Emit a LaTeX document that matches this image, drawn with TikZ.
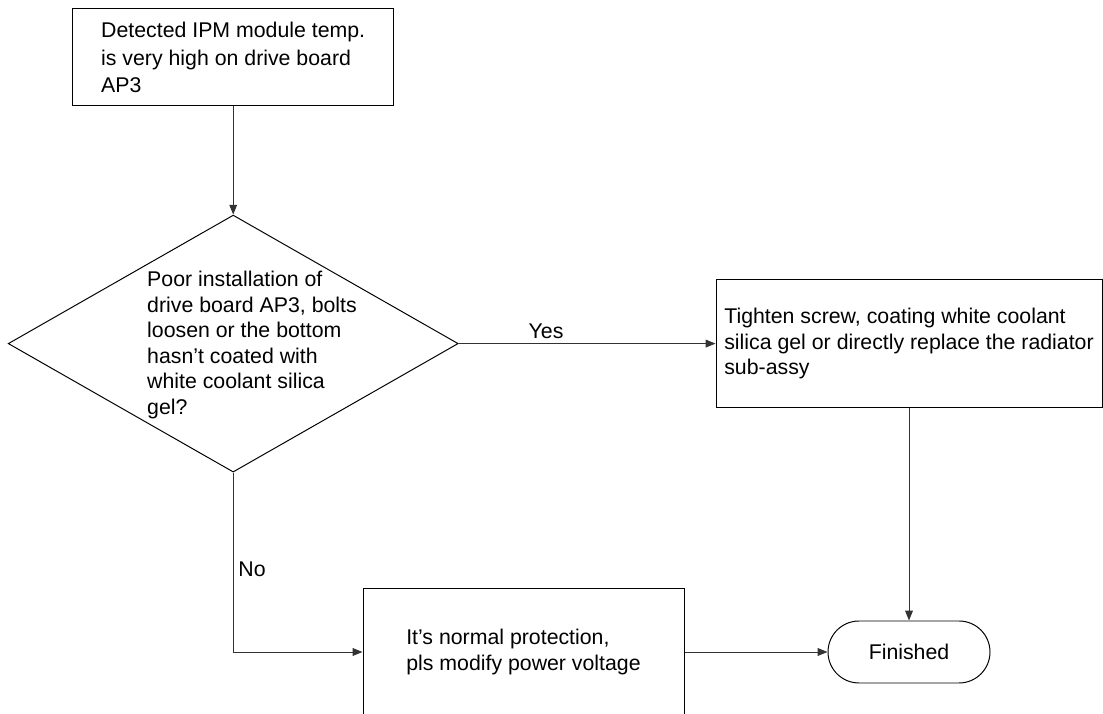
\documentclass[tikz,border=0pt]{standalone}
\usepackage{fontspec}
\setmainfont{Liberation Sans}
\usepackage{tikz}
\usetikzlibrary{arrows.meta,positioning,shapes.geometric}

\begin{document}
\begin{tikzpicture}[
  box/.style={draw, line width=0.7pt, minimum width=#1, minimum height=3.2cm, align=left, font=\fontsize{15.15pt}{18.1pt}\selectfont},
  decision/.style={draw, diamond, line width=0.7pt, inner sep=0pt, minimum width=11.25cm, minimum height=6.425cm},
  terminal/.style={draw, line width=0.7pt, rounded corners=0.775cm, minimum width=4.05cm, minimum height=1.55cm, font=\fontsize{15.15pt}{18.1pt}\selectfont},
  txt/.style={align=left, inner sep=0pt, font=\fontsize{15.15pt}{18.1pt}\selectfont},
  lbl/.style={font=\fontsize{15.15pt}{18.1pt}\selectfont},
  arrow/.style={-{Triangle[length=7pt, width=5.5pt]}, line width=0.7pt, draw=black!80}
]
\useasboundingbox (0,0) rectangle (27.575,17.85);

% Boxes
\node[box=8.025cm, minimum height=2.425cm, font=\fontsize{15.15pt}{19.4pt}\selectfont] (detect) at (5.83,16.4125) {Detected IPM module temp.\\is very high on drive board\\AP3};
\node[decision] (check) at (5.83,9.26) {};
\node[txt] (checktext) at (6.3,9.225) {Poor installation of\\drive board AP3, bolts\\loosen or the bottom\\hasn’t coated with\\white coolant silica\\gel?};
\node[box=9.65cm] (fix) at (22.725,9.26) {Tighten screw, coating white coolant\\silica gel or directly replace the radiator\\sub-assy};
\node[box=8.025cm] (normal) at (13.0875,1.55) {It’s normal protection,\\pls modify power voltage};
\node[terminal] (done) at (22.725,1.55) {Finished};

% Arrows
\draw[arrow] (detect.south) -- (check.north);
\draw[arrow] (check.east) -- node[lbl, above, pos=0.34] {Yes} (fix.west);
\draw[arrow] (check.south) |- node[lbl, right, pos=0.27] {No} (normal.west);
\draw[arrow] (fix.south) -- (done.north);
\draw[arrow] (normal.east) -- (done.west);

\end{tikzpicture}
\end{document}
